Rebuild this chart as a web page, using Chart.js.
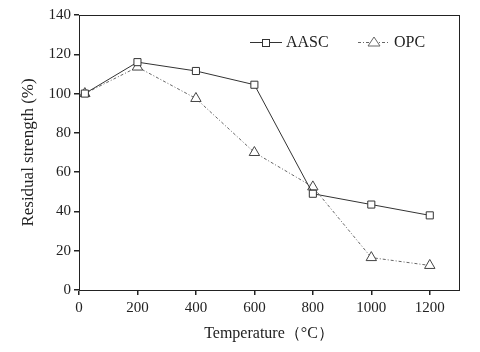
<!DOCTYPE html>
<html>
<head>
<meta charset="utf-8">
<script src="https://cdn.jsdelivr.net/npm/chart.js@4"></script>
<style>
  html, body { margin: 0; padding: 0; background: #fff; }
  #wrap { width: 480px; height: 352px; }
</style>
</head>
<body>
<div id="wrap"><canvas id="chart" width="480" height="352"></canvas></div>
<script>
const temps = [20, 200, 400, 600, 800, 1000, 1200]
const aasc = [100, 116, 111.5, 104.5, 49, 43.5, 38]
const opc = [100, 113.5, 97.5, 70, 52.5, 16.5, 12.5]
const seriesNames = ['AASC', 'OPC']
const xTicks = [0, 200, 400, 600, 800, 1000, 1200]
const yTicks = [0, 20, 40, 60, 80, 100, 120, 140]

const font = 'Liberation Serif'

// box round the plot plus the line+marker legend
const framePlugin = {
  id: 'frame',
  afterDraw(chart) {
    const { ctx, chartArea: a } = chart
    ctx.save()
    ctx.strokeStyle = '#222'
    ctx.lineWidth = 1
    ctx.strokeRect(a.left + 0.5, a.top + 0.5, a.right - a.left, a.bottom - a.top)

    const items = chart.data.datasets
    let x = 250
    const y = 42
    items.forEach((ds, i) => {
      ctx.strokeStyle = ds.borderColor
      ctx.lineWidth = 1
      ctx.setLineDash(ds.borderDash || [])
      ctx.beginPath()
      ctx.moveTo(x, y + 0.5)
      ctx.lineTo(x + 32, y + 0.5)
      ctx.stroke()
      ctx.setLineDash([])
      ctx.fillStyle = '#fff'
      if (ds.pointStyle === 'rect') {
        ctx.fillRect(x + 12, y - 3, 7, 7)
        ctx.strokeRect(x + 12.5, y - 2.5, 7, 7)
      } else {
        ctx.beginPath()
        ctx.moveTo(x + 16, y - 5)
        ctx.lineTo(x + 22, y + 4)
        ctx.lineTo(x + 10, y + 4)
        ctx.closePath()
        ctx.fill()
        ctx.stroke()
      }
      ctx.fillStyle = '#222'
      ctx.font = '16px "' + font + '"'
      ctx.textBaseline = 'middle'
      ctx.fillText(ds.label, x + 36, y + 1)
      x += 108
    })
    ctx.restore()
  }
}

new Chart(document.getElementById('chart'), {
  type: 'line',
  data: {
    datasets: [
      {
        label: seriesNames[0],
        data: temps.map((t, i) => ({ x: t, y: aasc[i] })),
        borderColor: '#333',
        borderWidth: 1,
        pointStyle: 'rect',
        pointRadius: 5,
        pointBackgroundColor: '#fff',
        pointBorderColor: '#333',
        pointBorderWidth: 1
      },
      {
        label: seriesNames[1],
        data: temps.map((t, i) => ({ x: t, y: opc[i] })),
        borderColor: '#666',
        borderWidth: 1,
        borderDash: [3, 2, 1, 2],
        pointStyle: 'triangle',
        pointRadius: 6,
        pointBackgroundColor: '#fff',
        pointBorderColor: '#444',
        pointBorderWidth: 1
      }
    ]
  },
  options: {
    responsive: false,
    animation: false,
    layout: { padding: { top: 15, right: 21, left: 0, bottom: 0 } },
    plugins: { legend: { display: false }, tooltip: { enabled: false } },
    scales: {
      x: {
        type: 'linear',
        min: 0, max: 1300,
        afterBuildTicks: s => { s.ticks = xTicks.map(v => ({ value: v })) },
        afterFit: s => { s.height = 62 },
        grid: { drawOnChartArea: false, drawTicks: true, tickLength: 5, color: '#222', lineWidth: 1.5 },
        border: { color: '#222' },
        ticks: { color: '#222', font: { family: font, size: 15 }, padding: 4, maxRotation: 0, callback: v => String(v) },
        title: { display: true, text: 'Temperature（°C）', color: '#222', font: { family: font, size: 16 }, padding: { top: 2, bottom: 9 } }
      },
      y: {
        min: 0, max: 140,
        afterBuildTicks: s => { s.ticks = yTicks.map(v => ({ value: v })) },
        afterFit: s => { s.width = 79 },
        grid: { drawOnChartArea: false, drawTicks: true, tickLength: 5, color: '#222', lineWidth: 1.5 },
        border: { color: '#222' },
        ticks: { color: '#222', font: { family: font, size: 15 }, padding: 3 },
        title: { display: true, text: 'Residual strength (%)', color: '#222', font: { family: font, size: 17 }, padding: { top: 18, bottom: 0 } }
      }
    }
  },
  plugins: [framePlugin]
})
</script>
</body>
</html>
